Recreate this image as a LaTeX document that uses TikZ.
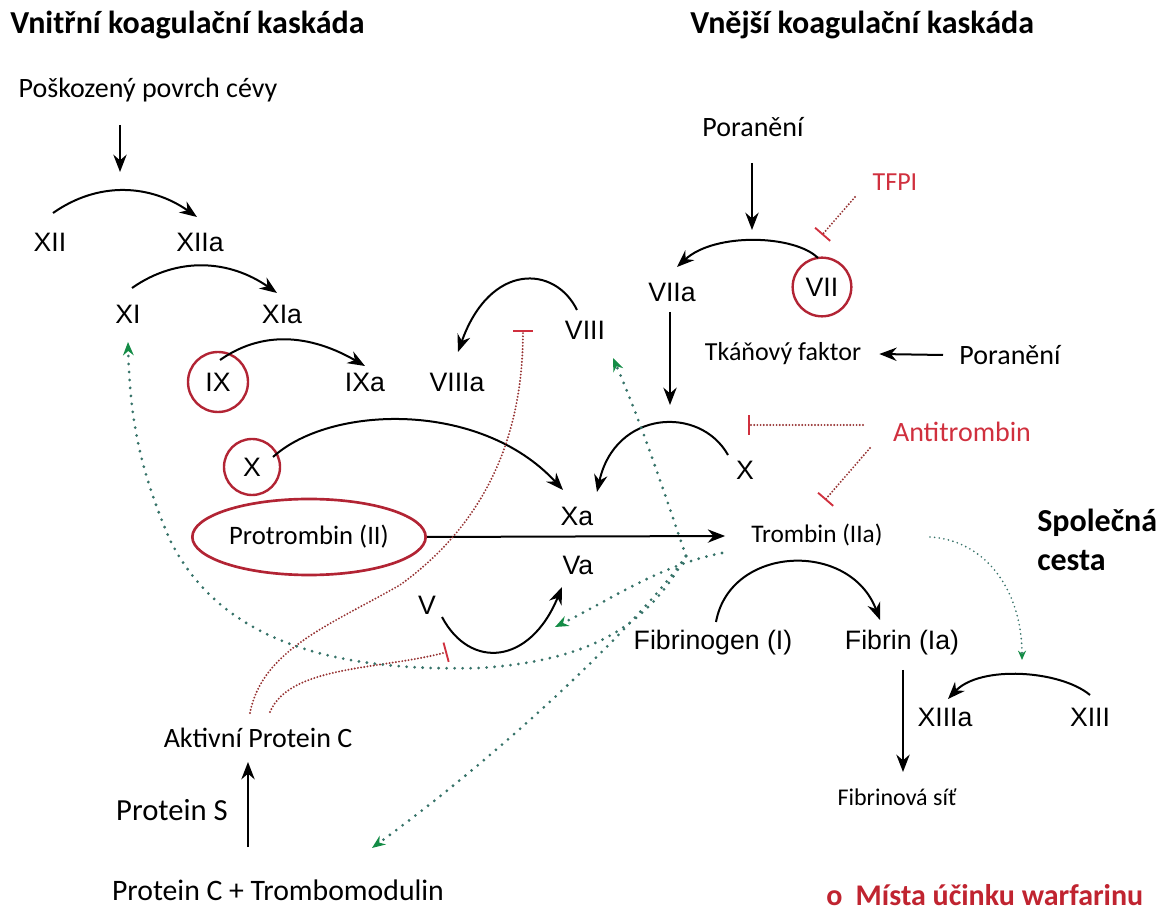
\documentclass[tikz,border=0pt]{standalone}
\usepackage{fontspec}
\setmainfont{Carlito}
\newfontfamily\arialf{Liberation Sans}
\usetikzlibrary{arrows.meta,calc,shapes.geometric}
\definecolor{cred}{RGB}{178,36,52}
\definecolor{cred2}{RGB}{208,48,62}
\definecolor{cred3}{RGB}{192,36,48}
\definecolor{cdred}{RGB}{150,50,50}
\definecolor{cteal}{RGB}{55,115,105}
\definecolor{cgreen}{RGB}{20,140,70}
\tikzset{
  rn/.style={font=\arialf\fontsize{20pt}{24pt}\selectfont, inner sep=0pt},
  cb/.style={font=\fontsize{#1pt}{#1pt}\selectfont, inner sep=0pt},
  ttl/.style={font=\bfseries\fontsize{24pt}{28pt}\selectfont, inner sep=0pt},
  arr/.style={line width=1.5pt, -{Stealth[length=13pt,width=10pt]}},
  gdot/.style={draw=cteal, line width=2.3pt, dash pattern=on 0pt off 6pt, line cap=round,
     -{Stealth[length=10pt,width=8pt,color=cgreen]}},
  rdot/.style={draw=cdred, line width=1.6pt, dash pattern=on 0pt off 2.4pt, line cap=round,
     -{Bar[width=15pt,line width=1.4pt,color=cred2]}},
  wcirc/.style={draw=cred, circle, line width=1.8pt, minimum size=#1},
}
\begin{document}
\begin{tikzpicture}[x=0.75pt,y=-0.75pt]
\useasboundingbox (0,0) rectangle (1165,912);
% titles
\node[ttl, anchor=west] (t1) at (10,25) {Vnitřní koagulační kaskáda};
\node[ttl, anchor=west] (t2) at (690,25) {Vnější koagulační kaskáda};
\node[font=\bfseries\fontsize{24pt}{29pt}\selectfont, inner sep=0pt, anchor=north west, align=left] (Sp) at (1037,509) {Společná\\cesta};
% intrinsic
\node[cb=21] (pov) at (148,90) {Poškozený povrch cévy};
\node[rn] (XII) at (50,242) {XII};
\node[rn] (XIIa) at (200,242) {XIIa};
\node[rn] (XI) at (128,314) {XI};
\node[rn] (XIa) at (282,314) {XIa};
\node[rn, wcirc=45pt] (IX) at (218,382) {IX};
\node[rn] (IXa) at (365,382) {IXa};
\node[rn] (VIIIa) at (457,382) {VIIIa};
\node[rn] (VIII) at (585,330) {VIII};
\node[rn, wcirc=42pt] (X1) at (252,467) {X};
\node[cb=20, ellipse, draw=cred, line width=2pt, minimum width=175pt, minimum height=57pt] (PT) at (309,537) {Protrombin (II)};
\node[rn] (Xa) at (577,516) {Xa};
\node[rn] (Va) at (578,565) {Va};
\node[rn] (V) at (427,605) {V};
\node[cb=19] (Tr) at (817,535) {Trombin (IIa)};
% extrinsic
\node[cb=21] (Por1) at (753,127) {Poranění};
\node[rn] (VIIa) at (672,292) {VIIa};
\node[rn, wcirc=44pt] (VII) at (822,287) {VII};
\node[cb=19.5, text=cred2] (TFPI) at (895,182) {TFPI};
\node[cb=19.5] (TF) at (783,354) {Tkáňový faktor};
\node[cb=21] (Por2) at (1010,355) {Poranění};
\node[rn] (X2) at (745,470) {X};
\node[cb=21, text=cred2] (AT) at (962,432) {Antitrombin};
% common
\node[rn] (Fg) at (713,643) {Fibrinogen (I)};
\node[rn] (Fb) at (902,643) {Fibrin (Ia)};
\node[rn] (XIIIa) at (945,717) {XIIIa};
\node[rn] (XIII) at (1090,717) {XIII};
\node[cb=18] (FS) at (897,797) {Fibrinová síť};
% protein C
\node[cb=21] (APC) at (258,738) {Aktivní Protein C};
\node[cb=23] (PS) at (172,810) {Protein S};
\node[cb=22.3] (PCT) at (278,890) {Protein C + Trombomodulin};
% legend
\node[font=\bfseries\fontsize{22.5pt}{26pt}\selectfont, text=cred3, inner sep=0pt, anchor=west] (leg) at (826,895) {o\hspace{10pt}Místa účinku warfarinu};

% black connectors
\draw[arr] ($(pov)+(-28,35)$) -- ++(0,47);
\draw[arr] ($(XII)+(3,-29)$) to[out=35,in=145] ($(XIIa)+(-3,-25)$);
\draw[arr] ($(XI)+(4,-26)$) to[out=35,in=145] ($(XIa)+(-5,-21)$);
\draw[arr] ($(IX)+(2,-22)$) to[out=35,in=150] ($(IXa)+(0,-16)$);
\draw[arr] ($(VIII)+(-8,-20)$) .. controls (555,265) and (490,262) .. ($(VIIIa)+(1,-30)$);
\draw[arr] ($(X1)+(21,-10)$) .. controls (330,405) and (480,400) .. ($(Xa)+(-14,-26)$);
\draw[arr] (PT.east) -- ($(Tr.west)+(-26,1)$);
\draw[arr] ($(V)+(15,12)$) .. controls (470,670) and (530,665) .. ($(Va)+(-16,22)$);
\draw[arr] ($(Por1)+(-1,36)$) -- ++(0,67);
\draw[arr] ($(VII)+(-4,-29)$) .. controls (795,235) and (715,232) .. ($(VIIa)+(5,-25)$);
\draw[arr] ($(Por2)+(-67,0)$) -- ($(TF.east)+(18,0)$);
\draw[arr] ($(VIIa)+(-2,20)$) -- ++(0,93);
\draw[arr] ($(X2)+(-17,-15)$) .. controls (700,405) and (615,410) .. ($(Xa)+(20,-24)$);
\draw[arr] ($(Fg)+(3,-21)$) .. controls (730,545) and (850,540) .. ($(Fb)+(-22,-23)$);
\draw[arr] ($(Fb)+(1,27)$) -- ($(FS)+(6,-25)$);
\draw[arr] ($(XIII)+(0,-22)$) .. controls (1060,670) and (980,665) .. ($(XIIIa)+(3,-18)$);
\draw[arr] ($(PCT)+(-30,-43)$) -- ($(APC)+(-10,24)$);

% inhibitions
\draw[rdot] ($(TFPI)+(-40,15)$) -- ++(-33,38);
\draw[rdot] ($(AT)+(-99,-7)$) -- ++(-115,0);
\draw[rdot] ($(AT)+(-92,16)$) -- ++(-45,52);
\draw[rdot] ($(APC)+(-8,-25)$) .. controls (262,650) and (330,625) .. (400,585)
   .. controls (490,520) and (523,430) .. (523,330);
\draw[rdot] ($(APC)+(12,-26)$) .. controls (290,665) and (380,670) .. (447,652);

% thrombin feedback
\coordinate (tS) at ($(Tr)+(-131,21)$);
\coordinate (tV) at ($(Tr)+(-95,18)$);
\draw[gdot] (tS) .. controls (660,480) and (640,420) .. ($(VIII)+(28,28)$);
\draw[gdot] (tV) .. controls (660,565) and (610,600) .. ($(Va)+(-23,62)$);
\draw[gdot] (tS) .. controls (650,610) and (520,740) .. ($(PCT)+(94,-42)$);
\draw[gdot] (tS) .. controls (650,620) and (600,660) .. (480,668)
   .. controls (330,672) and (220,640) .. (170,540)
   .. controls (140,470) and (130,420) .. ($(XI)+(0,28)$);
\draw[gdot, line width=1.4pt, dash pattern=on 0pt off 3.5pt, -{Stealth[length=7pt,width=6pt,color=cgreen]}]
   ($(Tr)+(113,2)$) .. controls (985,540) and (1022,590) .. ($(XIIIa)+(77,-57)$);
\end{tikzpicture}
\end{document}
